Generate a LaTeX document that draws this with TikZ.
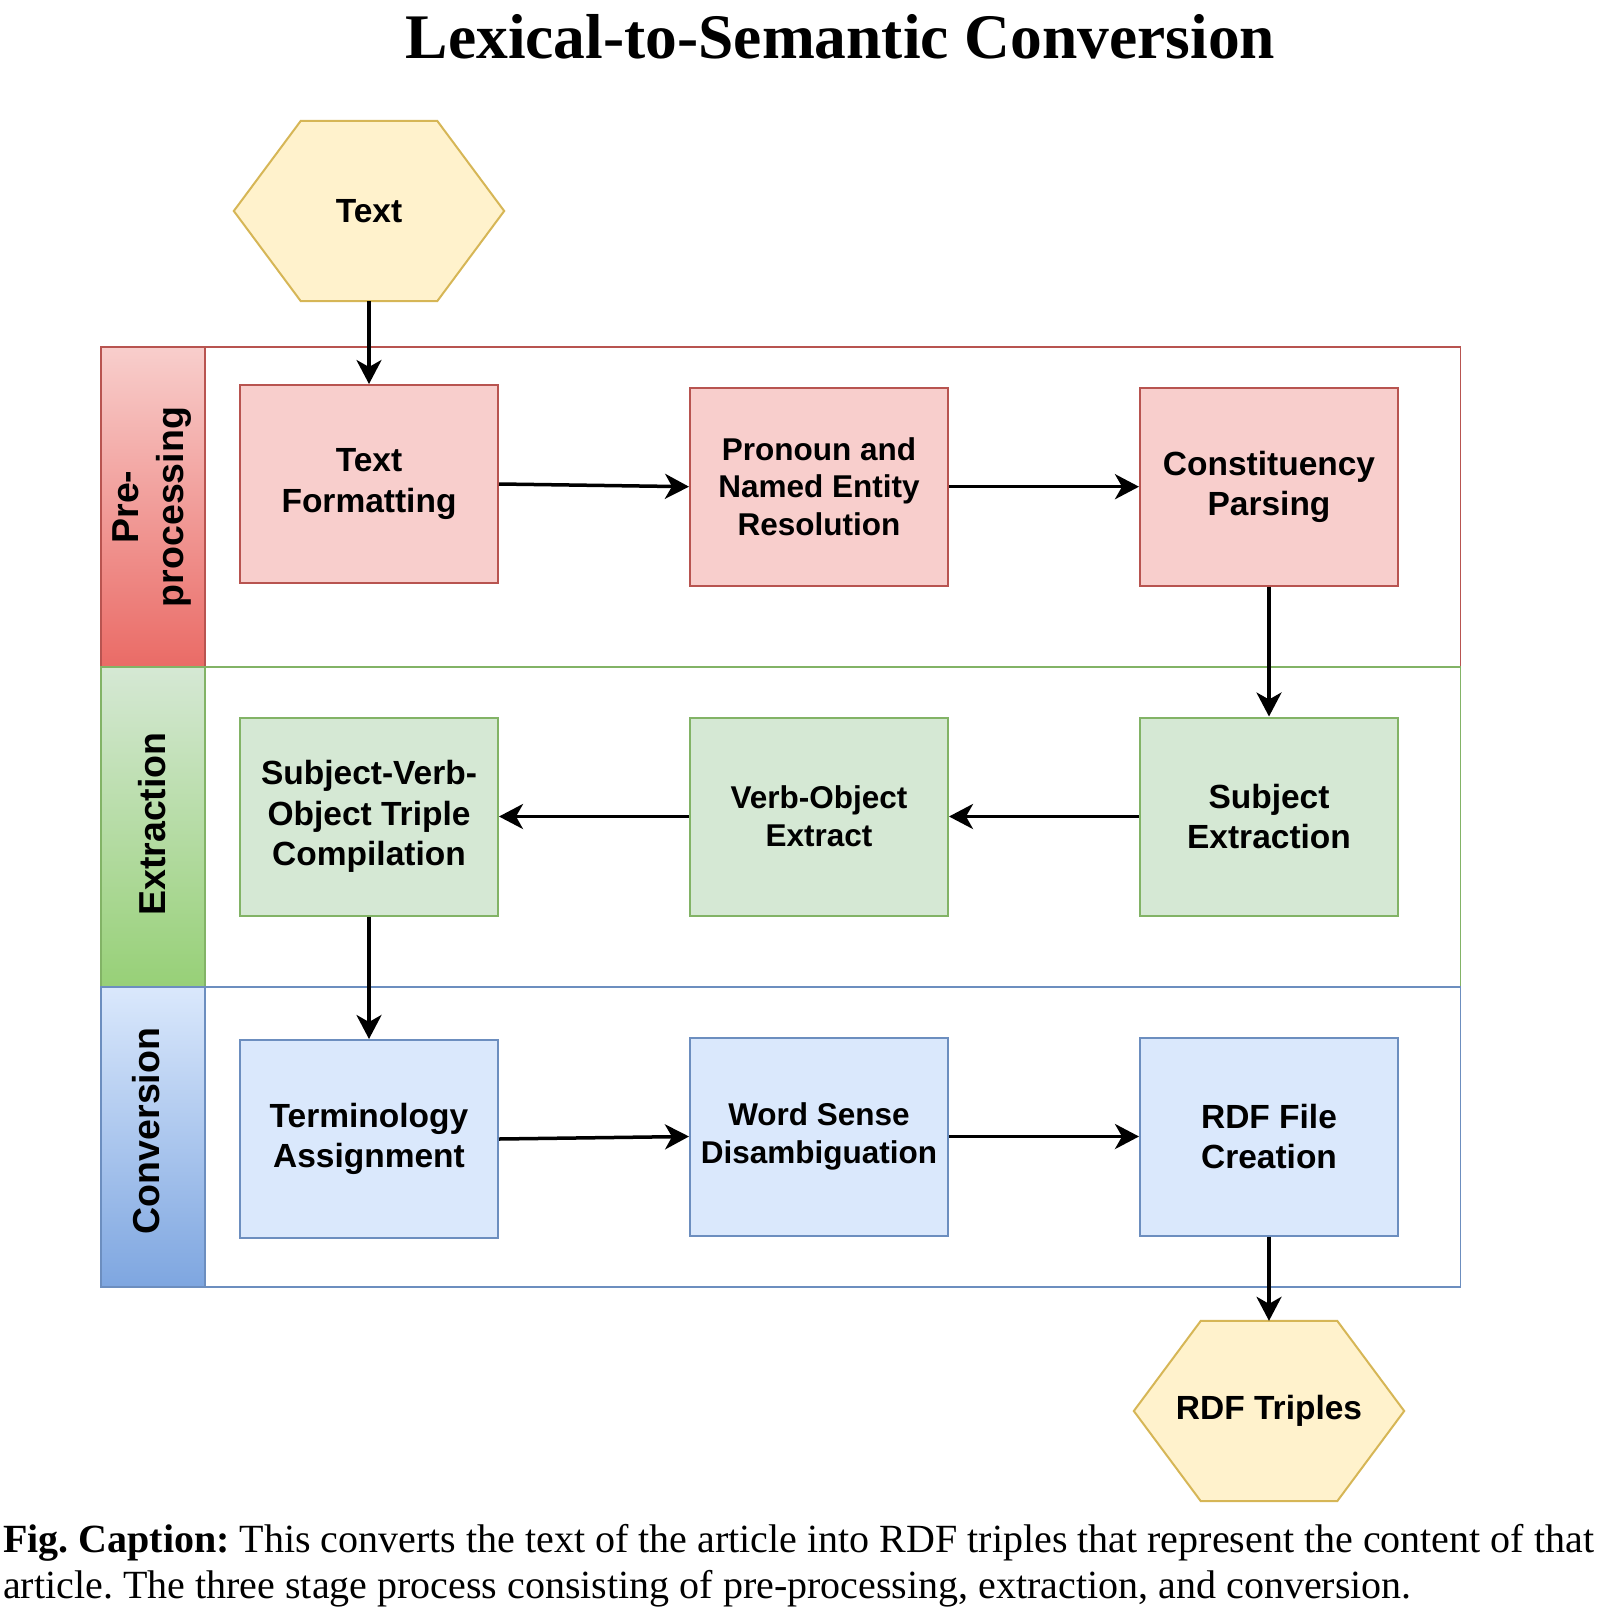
\documentclass[tikz,border=0pt]{standalone}
\usepackage{fontspec}
\setmainfont{Liberation Serif}
\newfontfamily\boxfont{Liberation Sans}
\usetikzlibrary{arrows.meta,backgrounds}
\frenchspacing

\definecolor{prepfill}{HTML}{F8CECC}
\definecolor{prepline}{HTML}{B85450}
\definecolor{prepdark}{HTML}{EA6B66}
\definecolor{extrfill}{HTML}{D5E8D4}
\definecolor{extrline}{HTML}{82B366}
\definecolor{extrdark}{HTML}{97D077}
\definecolor{convfill}{HTML}{DAE8FC}
\definecolor{convline}{HTML}{6C8EBF}
\definecolor{convdark}{HTML}{7EA6E0}
\definecolor{termfill}{HTML}{FFF2CC}
\definecolor{termline}{HTML}{D6B656}

\tikzset{
    bigtext/.style={font=\boxfont\bfseries\fontsize{33.5}{40.2}\selectfont},
    smalltext/.style={font=\boxfont\bfseries\fontsize{31.5}{37.8}\selectfont},
    stage/.style={draw, line width=2pt, minimum width=258pt, minimum height=198pt, align=center, bigtext},
    prep/.style={stage, fill=prepfill, draw=prepline},
    extr/.style={stage, fill=extrfill, draw=extrline},
    conv/.style={stage, fill=convfill, draw=convline},
    terminal/.style={minimum width=270pt, minimum height=180pt, align=center, bigtext},
    hexline/.style={draw=termline, fill=termfill, line width=2pt, line join=miter},
    lane/.style={line width=1.8pt},
    lanelabel/.style={rotate=90, align=center, font=\boxfont\bfseries\fontsize{37.5}{45}\selectfont},
    flow/.style={-{Stealth[length=24pt,width=25pt,inset=7pt]}, line width=3.5pt}
}

\begin{document}
\begin{tikzpicture}[x=1pt, y=-1pt, every node/.style={inner sep=0pt}]
    \useasboundingbox (0,0) rectangle (1602,1608);

    \node[anchor=base, font=\bfseries\fontsize{63.5}{76}\selectfont] (title) at (840.5,58.3) {Lexical-to-Semantic Conversion};

    % swim lanes
    \draw[lane, draw=prepline] (101,347) rectangle (1460.5,667);
    \path[lane, draw=prepline, top color=prepfill, bottom color=prepdark] (101,347) rectangle (205,667);
    \draw[lane, draw=extrline] (101,667) rectangle (1460.5,987);
    \path[lane, draw=extrline, top color=extrfill, bottom color=extrdark] (101,667) rectangle (205,987);
    \draw[lane, draw=convline] (101,987) rectangle (1460.5,1287);
    \path[lane, draw=convline, top color=convfill, bottom color=convdark] (101,987) rectangle (205,1287);

    \node[lanelabel] (preplab) at (152,507) {Pre-\\processing};
    \node[lanelabel] (extrlab) at (152,824) {Extraction};
    \node[lanelabel] (convlab) at (146,1131) {Conversion};

    % steps
    \node[terminal] (txt) at (369,211) {Text};
    \node[prep] (tf) at (369,484) {Text\\Formatting};
    \node[prep, smalltext] (pron) at (819,486.7) {Pronoun and\\Named Entity\\Resolution};
    \node[prep] (cons) at (1269,486.7) {Constituency\\Parsing};
    \node[extr] (subj) at (1269,816.5) {Subject\\Extraction};
    \node[extr, smalltext] (vo) at (819,816.5) {Verb-Object\\Extract};
    \node[extr] (svo) at (369,816.5) {Subject-Verb-\\Object Triple\\Compilation};
    \node[conv] (term) at (369,1139) {Terminology\\Assignment};
    \node[conv, smalltext] (wsd) at (819,1136.5) {Word Sense\\Disambiguation};
    \node[conv] (rdf) at (1269,1136.5) {RDF File\\Creation};
    \node[terminal] (trip) at (1269,1411) {RDF Triples};

    \begin{scope}[on background layer]
        \foreach \h in {txt,trip}
            \draw[hexline] (\h.west) -- ([xshift=67pt]\h.north west) -- ([xshift=-67pt]\h.north east)
                -- (\h.east) -- ([xshift=-67pt]\h.south east) -- ([xshift=67pt]\h.south west) -- cycle;
    \end{scope}

    \draw[flow] (txt.south) -- (tf.north);
    \draw[flow] (tf.east) -- (pron.west);
    \draw[flow] (pron.east) -- (cons.west);
    \draw[flow] (cons.south) -- (subj.north);
    \draw[flow] (subj.west) -- (vo.east);
    \draw[flow] (vo.west) -- (svo.east);
    \draw[flow] (svo.south) -- (term.north);
    \draw[flow] (term.east) -- (wsd.west);
    \draw[flow] (wsd.east) -- (rdf.west);
    \draw[flow] (rdf.south) -- (trip.north);

    \node[anchor=base west, font=\fontsize{40}{46}\selectfont] (cap1) at (3,1552) {\textbf{Fig. Caption:} This converts the text of the article into RDF triples that represent the content of that};
    \node[anchor=base west, font=\fontsize{40}{46}\selectfont] (cap2) at (3,1598) {article. The three stage process consisting of pre-processing, extraction, and conversion.};
\end{tikzpicture}
\end{document}
